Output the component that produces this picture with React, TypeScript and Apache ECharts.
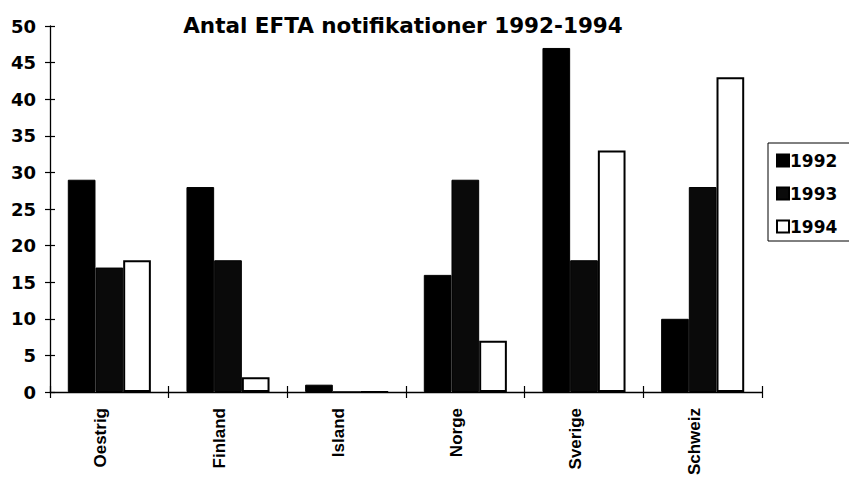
import React, { useEffect, useRef } from "react";
import * as echarts from "echarts";

const categories = ["Oestrig", "Finland", "Island", "Norge", "Sverige", "Schweiz"];
const values1992 = [29, 28, 1, 16, 47, 10];
const values1993 = [17, 18, 0, 29, 18, 28];
const values1994 = [18, 2, 0, 7, 33, 43];
const seriesNames = ["1992", "1993", "1994"];
const yTicks = { min: 0, max: 50, interval: 5 };

const FONT = "'Liberation Sans', Arial, sans-serif";
const WIDE = "'DejaVu Sans', 'Liberation Sans', sans-serif";

export default function App() {
  const ref = useRef<HTMLDivElement>(null);
  useEffect(() => {
    if (!ref.current) return;
    const chart = echarts.init(ref.current, null, { renderer: "svg" });
    const axisLine = { show: true, lineStyle: { color: "#000", width: 1.3 } };
    const option = {
      animation: false,
      backgroundColor: "#fff",
      title: {
        text: "Antal EFTA notifikationer 1992-1994",
        left: 398,
        textAlign: "center",
        top: 9,
        textStyle: { fontFamily: WIDE, fontSize: 21.5, fontWeight: "bold", color: "#000" },
      },
      legend: {
        orient: "vertical",
        left: 768,
        top: 143,
        padding: [9, 60, 6, 8],
        borderColor: "#000",
        borderWidth: 1,
        itemWidth: 12,
        itemHeight: 12,
        itemGap: 16,
        icon: "rect",
        textStyle: { fontFamily: WIDE, fontSize: 17, fontWeight: "bold", color: "#000", padding: [0, 0, 0, -4] },
        data: seriesNames,
      },
      grid: { left: 50, right: 87, top: 26, bottom: 89, containLabel: false },
      xAxis: [
        {
          type: "category",
          data: categories,
          axisLine,
          axisTick: { show: true, length: 6, lineStyle: { color: "#000", width: 1.2 } },
          axisLabel: {
            rotate: 90,
            margin: 16,
            fontFamily: FONT,
            fontSize: 17,
            fontWeight: "bold",
            color: "#000",
            verticalAlign: "bottom",
          },
          splitLine: { show: false },
        },
        {
          type: "category",
          data: categories,
          position: "bottom",
          axisLine: { show: false },
          axisTick: { show: true, inside: true, length: 6, lineStyle: { color: "#000", width: 1.2 } },
          axisLabel: { show: false },
          splitLine: { show: false },
        },
      ],
      yAxis: [
        {
          type: "value",
          ...yTicks,
          axisLine,
          axisTick: { show: true, length: 5, lineStyle: { color: "#000", width: 1.2 } },
          axisLabel: {
            margin: 14,
            fontFamily: WIDE,
            fontSize: 18,
            fontWeight: "bold",
            color: "#000",
          },
          splitLine: { show: false },
        },
        {
          type: "value",
          ...yTicks,
          position: "left",
          axisLine: { show: false },
          axisTick: { show: true, inside: true, length: 5, lineStyle: { color: "#000", width: 1.2 } },
          axisLabel: { show: false },
          splitLine: { show: false },
        },
      ],
      series: [
        {
          name: "1992",
          type: "bar",
          data: values1992,
          barGap: "0%",
          barCategoryGap: "30%",
          itemStyle: { color: "#000", borderColor: "#000", borderWidth: 1 },
        },
        {
          name: "1993",
          type: "bar",
          data: values1993,
          barGap: "0%",
          barCategoryGap: "30%",
          itemStyle: { color: "#0a0a0a", borderColor: "#000", borderWidth: 1 },
        },
        {
          name: "1994",
          type: "bar",
          data: values1994,
          barGap: "0%",
          barCategoryGap: "30%",
          itemStyle: { color: "#fff", borderColor: "#000", borderWidth: 2 },
        },
      ],
    };
    chart.setOption(option as any);
    return () => chart.dispose();
  }, []);
  return (
    <div
      ref={ref}
      style={{ position: "fixed", left: 0, top: 0, width: 849, height: 481, background: "#fff" }}
    />
  );
}
